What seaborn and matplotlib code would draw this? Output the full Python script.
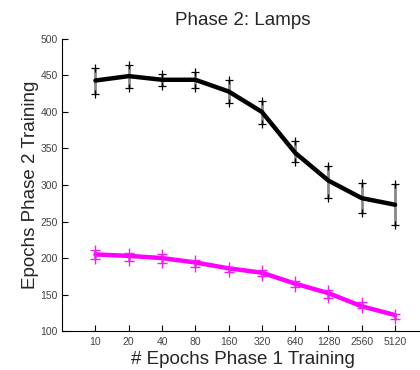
import matplotlib
matplotlib.use("Agg")
import matplotlib.pyplot as plt
import seaborn as sns
import numpy as np
import pandas as pd

categories = ["10", "20", "40", "80", "160", "320", "640", "1280", "2560", "5120"]
black_mean = [443, 449, 444, 444, 428, 400, 344, 306, 282, 273]
black_upper = [460, 464, 452, 455, 444, 415, 360, 326, 303, 302]
black_lower = [425, 433, 435, 433, 412, 383, 331, 282, 261, 245]
mag_mean = [205, 203, 200, 194, 186, 180, 165, 152, 134, 122]
mag_upper = [211, 207, 206, 198, 188, 183, 168, 156, 140, 124]
mag_lower = [199, 196, 193, 188, 181, 175, 160, 145, 131, 117]

sns.set_style("white")
plt.rcParams['font.family'] = ['Liberation Sans', 'DejaVu Sans']

fig = plt.figure(figsize=(4.2, 3.7), dpi=100)
ax = fig.add_axes([0.148, 0.105, 0.86, 0.79])

x = np.arange(1, len(categories) + 1)
df = pd.DataFrame({"x": np.concatenate([x, x]),
                   "y": black_mean + mag_mean,
                   "series": ["black"] * len(x) + ["magenta"] * len(x)})

# error bars
ax.vlines(x, black_lower, black_upper, color="#888888", lw=2, zorder=1)
ax.plot(x, black_upper, ls="none", marker="+", color="black", ms=6, mew=0.9, zorder=3)
ax.plot(x, black_lower, ls="none", marker="+", color="black", ms=6, mew=0.9, zorder=3)
ax.vlines(x, mag_lower, mag_upper, color="#ee66ee", lw=2, zorder=1)
ax.plot(x, mag_upper, ls="none", marker="+", color="#ee22ee", ms=7, mew=1, zorder=3)
ax.plot(x, mag_lower, ls="none", marker="+", color="#ee22ee", ms=7, mew=1, zorder=3)

sns.lineplot(data=df, x="x", y="y", hue="series",
             palette={"black": "black", "magenta": "#ff00ff"},
             lw=3.2, legend=False, ax=ax, zorder=2)

ax.set_xlim(0, 10.85)
ax.set_ylim(100, 500)
ax.set_xticks(x)
ax.set_xticklabels(categories)
ax.set_yticks(np.arange(100, 501, 50))

for s in ["top", "right"]:
    ax.spines[s].set_visible(False)
for s in ["left", "bottom"]:
    ax.spines[s].set_color("black")
    ax.spines[s].set_linewidth(0.8)

ax.tick_params(axis="both", direction="in", length=4, width=0.8, color="black",
               labelsize=7.5, labelcolor="#444444", left=True, bottom=True)
ax.tick_params(axis="x", pad=4)
ax.tick_params(axis="y", pad=3)

ax.set_xlabel("# Epochs Phase 1 Training", fontsize=13.5, labelpad=3)
ax.set_ylabel("Epochs Phase 2 Training", fontsize=13.5, labelpad=1)
ax.set_title("Phase 2: Lamps", fontsize=13.5, pad=10)

fig.savefig("out.png", dpi=100)
